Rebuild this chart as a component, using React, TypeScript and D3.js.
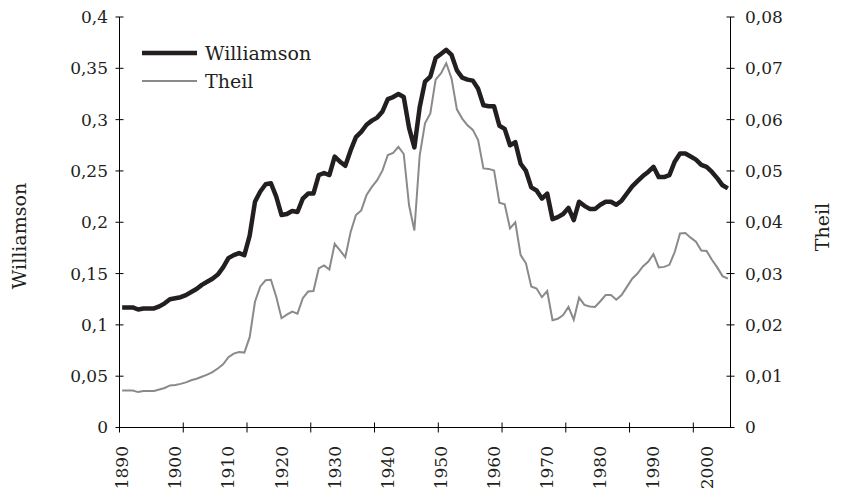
import { useEffect, useRef } from 'react';
import * as d3 from 'd3';

const years = d3.range(1890, 2005);

const williamson = [
  0.117, 0.117, 0.117, 0.115, 0.116, 0.116, 0.116, 0.118, 0.121, 0.125,
  0.126, 0.127, 0.129, 0.132, 0.135, 0.139, 0.142, 0.145, 0.149, 0.156,
  0.165, 0.168, 0.17, 0.168, 0.187, 0.22, 0.23, 0.237, 0.238, 0.225,
  0.207, 0.208, 0.211, 0.21, 0.223, 0.228, 0.228, 0.246, 0.248, 0.246,
  0.264, 0.259, 0.255, 0.27, 0.283, 0.288, 0.295, 0.299, 0.302, 0.308,
  0.32, 0.322, 0.325, 0.322, 0.292, 0.273, 0.312, 0.337, 0.342, 0.36,
  0.364, 0.368, 0.363, 0.348, 0.341, 0.339, 0.338, 0.33, 0.314, 0.313,
  0.313, 0.294, 0.291, 0.275, 0.278, 0.257, 0.25, 0.234, 0.231, 0.223,
  0.228, 0.203, 0.205, 0.208, 0.214, 0.202, 0.22, 0.216, 0.213, 0.213,
  0.217, 0.22, 0.22, 0.217, 0.221, 0.228, 0.235, 0.24, 0.245, 0.249,
  0.254, 0.244, 0.244, 0.246, 0.259, 0.267, 0.267, 0.264, 0.261, 0.256,
  0.254, 0.249, 0.243, 0.236, 0.233,
];

const theil = [
  0.0072, 0.0072, 0.0072, 0.0069, 0.0071, 0.0071, 0.0071, 0.0074, 0.0077, 0.0082,
  0.0083, 0.0085, 0.0088, 0.0092, 0.0095, 0.0099, 0.0103, 0.0108, 0.0115, 0.0123,
  0.0137, 0.0144, 0.0147, 0.0146, 0.0176, 0.0245, 0.0275, 0.0287, 0.0288, 0.0255,
  0.0213, 0.022, 0.0226, 0.0222, 0.0252, 0.0265, 0.0266, 0.031, 0.0316, 0.0308,
  0.0358, 0.0345, 0.0332, 0.0381, 0.0414, 0.0423, 0.0453, 0.0469, 0.0482, 0.0501,
  0.0531, 0.0535, 0.0547, 0.0533, 0.0433, 0.0384, 0.053, 0.0593, 0.0612, 0.0678,
  0.069, 0.071, 0.068, 0.062, 0.0602, 0.0589, 0.058, 0.056, 0.0505, 0.0504,
  0.0501, 0.0438, 0.0435, 0.0388, 0.04, 0.0336, 0.032, 0.0275, 0.0271, 0.0254,
  0.0266, 0.0209, 0.0212, 0.0219, 0.0235, 0.021, 0.0253, 0.0239, 0.0236, 0.0235,
  0.0246, 0.0258, 0.0258, 0.0249, 0.0258, 0.0274, 0.029, 0.03, 0.0314, 0.0323,
  0.0338, 0.0312, 0.0313, 0.0317, 0.0342, 0.0378, 0.0379, 0.037, 0.0362, 0.0345,
  0.0344, 0.0327, 0.0312, 0.0295, 0.029,
];

const leftTicks = [0, 0.05, 0.1, 0.15, 0.2, 0.25, 0.3, 0.35, 0.4];
const rightTicks = [0, 0.01, 0.02, 0.03, 0.04, 0.05, 0.06, 0.07, 0.08];
const labelYears = [1890, 1900, 1910, 1920, 1930, 1940, 1950, 1960, 1970, 1980, 1990, 2000];

const fmt = (v) => String(v).replace('.', ',');

export default function App() {
  const svgRef = useRef(null);
  const width = 841,
    height = 496;
  const left = 119.5,
    right = 730.5,
    top = 17,
    bottom = 427.5;
  const font = '"DejaVu Serif", serif';

  useEffect(() => {
    const svg = d3.select(svgRef.current);
    svg.selectAll('*').remove();

    const x = d3.scaleBand().domain(years).range([left, right]).padding(0);
    const xc = (yr) => x(yr) + x.bandwidth() / 2;
    const yL = d3.scaleLinear().domain([0, 0.4]).range([bottom, top]);
    const yR = d3.scaleLinear().domain([0, 0.08]).range([bottom, top]);

    // axes
    const axes = svg.append('g').attr('stroke', '#000').attr('stroke-width', 1);
    axes.append('line').attr('x1', left).attr('x2', left).attr('y1', top).attr('y2', bottom);
    axes.append('line').attr('x1', right).attr('x2', right).attr('y1', top).attr('y2', bottom);
    axes.append('line').attr('x1', left).attr('x2', right).attr('y1', bottom).attr('y2', bottom);

    leftTicks.forEach((t) => {
      axes.append('line').attr('x1', left - 4).attr('x2', left + 4).attr('y1', yL(t)).attr('y2', yL(t));
    });
    rightTicks.forEach((t) => {
      axes.append('line').attr('x1', right - 4).attr('x2', right + 4).attr('y1', yR(t)).attr('y2', yR(t));
    });
    // category tick marks every 12 categories, as in the original
    years
      .filter((d, i) => i % 12 === 0)
      .forEach((yr) => {
        axes
          .append('line')
          .attr('x1', x(yr))
          .attr('x2', x(yr))
          .attr('y1', bottom - 5)
          .attr('y2', bottom + 5);
      });

    const txt = svg.append('g').attr('font-family', font).attr('fill', '#231f20');

    txt
      .selectAll('.lt')
      .data(leftTicks)
      .join('text')
      .attr('x', 108)
      .attr('y', (d) => yL(d))
      .attr('dy', '0.35em')
      .attr('text-anchor', 'end')
      .style('font-size', '17px')
      .text(fmt);

    txt
      .selectAll('.rt')
      .data(rightTicks)
      .join('text')
      .attr('x', 745)
      .attr('y', (d) => yR(d))
      .attr('dy', '0.35em')
      .attr('text-anchor', 'start')
      .style('font-size', '17px')
      .text(fmt);

    txt
      .selectAll('.xt')
      .data(labelYears)
      .join('text')
      .attr('transform', (d) => `translate(${xc(d)},446) rotate(-90)`)
      .attr('dy', '0.35em')
      .attr('text-anchor', 'end')
      .style('font-size', '17px')
      .text((d) => d);

    txt
      .append('text')
      .attr('transform', 'translate(19,236) rotate(-90)')
      .attr('dy', '0.35em')
      .attr('text-anchor', 'middle')
      .style('font-size', '19px')
      .text('Williamson');

    txt
      .append('text')
      .attr('transform', 'translate(822,227) rotate(-90)')
      .attr('dy', '0.35em')
      .attr('text-anchor', 'middle')
      .style('font-size', '19px')
      .text('Theil');

    // series
    const lineW = d3
      .line()
      .x((d, i) => xc(years[i]))
      .y((d) => yL(d));
    const lineT = d3
      .line()
      .x((d, i) => xc(years[i]))
      .y((d) => yR(d));

    svg
      .append('path')
      .datum(theil)
      .attr('d', lineT)
      .attr('fill', 'none')
      .attr('stroke', '#8a8a8a')
      .attr('stroke-width', 2);

    svg
      .append('path')
      .datum(williamson)
      .attr('d', lineW)
      .attr('fill', 'none')
      .attr('stroke', '#231f20')
      .attr('stroke-width', 4.5)
      .attr('stroke-linejoin', 'round');

    // legend
    const legend = svg.append('g');
    legend.append('line').attr('x1', 142).attr('x2', 197).attr('y1', 53).attr('y2', 53)
      .attr('stroke', '#231f20').attr('stroke-width', 4.5);
    legend.append('line').attr('x1', 142).attr('x2', 197).attr('y1', 81).attr('y2', 81)
      .attr('stroke', '#8a8a8a').attr('stroke-width', 2);
    legend.append('text').attr('x', 205).attr('y', 53).attr('dy', '0.35em')
      .attr('font-family', font).style('font-size', '19px').attr('fill', '#231f20').text('Williamson');
    legend.append('text').attr('x', 205).attr('y', 81).attr('dy', '0.35em')
      .attr('font-family', font).style('font-size', '19px').attr('fill', '#231f20').text('Theil');
  }, []);

  return (
    <svg
      ref={svgRef}
      width={width}
      height={height}
      style={{ position: 'absolute', left: 0, top: 0, background: '#fff' }}
    ></svg>
  );
}
